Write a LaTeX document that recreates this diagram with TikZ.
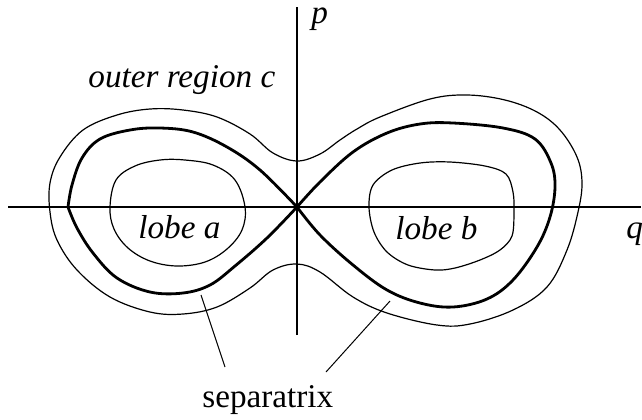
\documentclass[tikz,border=0pt]{standalone}
\usepackage{fontspec}
\setmainfont{Liberation Serif}
\begin{document}
\begin{tikzpicture}[x=0.5pt, y=-0.5pt, font=\fontsize{16.6}{20}\selectfont]
    \tikzset{
        axis/.style={line width=0.6pt},
        orbit/.style={line width=0.6pt},
        sepline/.style={line width=1.4pt},
        leader/.style={line width=0.5pt},
        region/.style={font=\fontsize{16.6}{20}\selectfont\itshape, inner sep=0pt},
        caption/.style={inner sep=0pt}
    }
    \useasboundingbox (0,0) rectangle (642,419);

    \coordinate (origin) at (297,207);
    \coordinate (qstart) at (8,207);
    \coordinate (qend) at (641,207);
    \coordinate (pstart) at (297,335);
    \coordinate (pend) at (297,7);

    \draw[axis] (qstart) -- (qend);
    \draw[axis] (pstart) -- (pend);
    \node[region, anchor=base west] (plabel) at (311,23) {p};
    \node[region, anchor=base west] (qlabel) at (626,238) {q};

    % outer orbit
    \draw[orbit] plot[smooth cycle, tension=0.6] coordinates {
        (297,161) (273,153) (250,134) (217,117) (183,110) (150,109) (117,115)
        (83,130) (60,157) (50,183) (50,212) (57,240) (77,270) (110,297)
        (150,312) (183,314) (217,307) (250,288) (273,270) (297,264)
        (320,272) (353,297) (387,313) (437,325) (470,324) (513,310)
        (547,287) (567,250) (578,212) (582,183) (577,157) (560,130)
        (537,112) (505,100) (467,95) (430,99) (380,117) (357,129) (340,140) (320,154)};

    % separatrix
    \draw[sepline] plot[smooth, tension=0.6] coordinates {
        (origin) (260,170) (227,147) (193,132) (160,128) (130,130) (100,139)
        (82,158) (72,185) (68,207)};
    \draw[sepline] plot[smooth, tension=0.6] coordinates {
        (68,207) (77,228) (93,253) (117,278) (150,292) (183,293) (210,285)
        (235,266) (267,238) (origin)};
    \draw[sepline] plot[smooth, tension=0.6] coordinates {
        (origin) (320,182) (353,152) (387,133) (420,124) (453,123) (503,128)
        (535,139) (551,163) (555,187) (550,217) (537,247) (513,280) (487,299)
        (453,307) (420,303) (387,290) (353,265) (320,235) (origin)};

    % inner orbits
    \draw[orbit] plot[smooth cycle, tension=0.6] coordinates {
        (110,207) (116,180) (135,166) (160,160) (185,160) (213,165) (235,180)
        (245,207) (242,230) (227,249) (205,262) (177,266) (150,261) (128,248) (114,229)};
    \draw[orbit] plot[smooth cycle, tension=0.55] coordinates {
        (369,207) (373,185) (392,170) (420,163) (450,162) (485,166) (506,174)
        (513,192) (514,212) (512,236) (500,250) (480,260) (455,268) (435,270)
        (408,265) (387,252) (374,232)};

    \node[region, anchor=base west] (lobea) at (138,238) {lobe a};
    \node[region, anchor=base west] (lobeb) at (395,239) {lobe b};
    \node[region, anchor=base west] (outerc) at (88,87) {outer region c};

    \node[caption, anchor=base west] (seplabel) at (202,407) {separatrix};
    \coordinate (sepa) at (201,295);
    \coordinate (sepb) at (390,301);
    \coordinate (tipa) at (225,367);
    \coordinate (tipb) at (326,372);
    \draw[leader] (sepa) -- (tipa);
    \draw[leader] (sepb) -- (tipb);
\end{tikzpicture}
\end{document}
